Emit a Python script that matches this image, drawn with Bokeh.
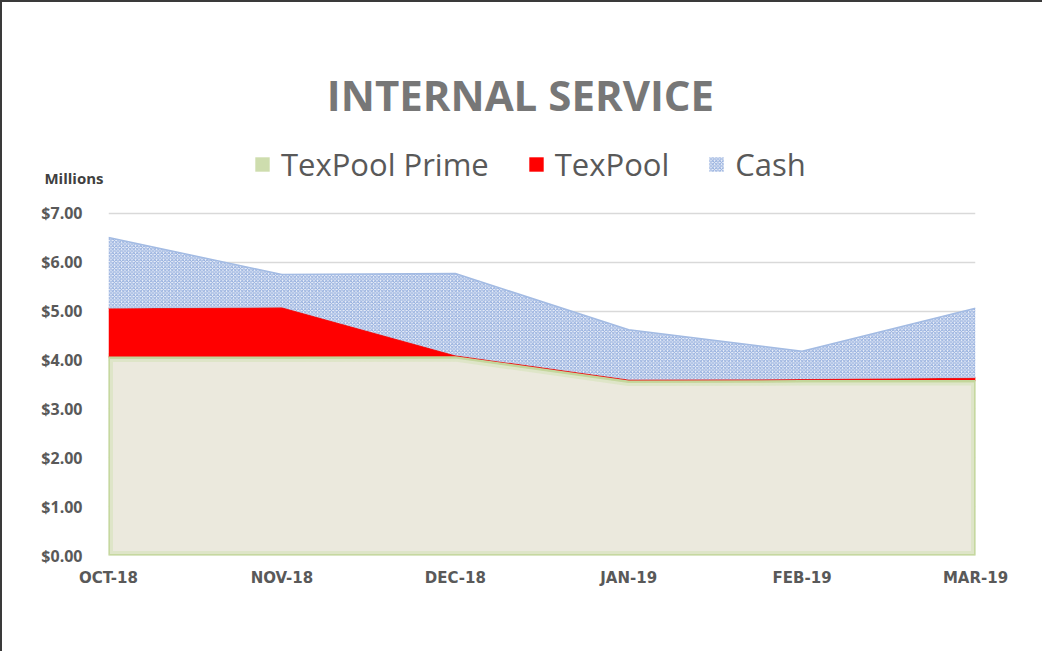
import numpy as np
from bokeh.plotting import figure
from bokeh.models import (FixedTicker, Legend, LegendItem, Label, Range1d,
                          ColumnDataSource, LinearAxis)
from bokeh.embed import file_html
from bokeh.resources import INLINE

# ---- data ----
months = ["OCT-18", "NOV-18", "DEC-18", "JAN-19", "FEB-19", "MAR-19"]
texpool_prime = [4.05, 4.05, 4.06, 3.56, 3.57, 3.57]
texpool = [1.01, 1.03, 0.04, 0.04, 0.04, 0.07]
cash = [1.45, 0.67, 1.67, 1.02, 0.57, 1.42]
y_ticks = [0, 1, 2, 3, 4, 5, 6, 7]
y_tick_labels = ["$0.00", "$1.00", "$2.00", "$3.00", "$4.00", "$5.00", "$6.00", "$7.00"]
title_text = "INTERNAL SERVICE"
unit_text = "Millions"

x = list(range(len(months)))
s1 = np.array(texpool_prime)
s2 = s1 + np.array(texpool)
s3 = s2 + np.array(cash)

src = ColumnDataSource(dict(x=x, zero=[0.0] * len(x), s1=s1, s2=s2, s3=s3))

W, H = 1042, 651
FRAME_BOTTOM = 553
p = figure(width=W, height=H, output_backend="svg", toolbar_location=None,
           x_range=Range1d(0, len(x) - 1), y_range=Range1d(0, FRAME_BOTTOM / 48.86),
           min_border_left=106, min_border_right=W - 973,
           min_border_top=0, min_border_bottom=H - FRAME_BOTTOM)
p.styles = {"border-top": "2px solid #3a3a3a", "border-left": "2px solid #3a3a3a"}
p.outline_line_color = None
p.background_fill_color = "white"
p.border_fill_color = "white"

# grid / axes
p.xgrid.grid_line_color = None
p.ygrid.ticker = FixedTicker(ticks=y_ticks)
p.ygrid.grid_line_color = "#D9D9D9"
p.ygrid.grid_line_width = 1.5
p.yaxis.ticker = FixedTicker(ticks=y_ticks)
p.xaxis.ticker = FixedTicker(ticks=x)
p.yaxis.major_label_overrides = {t: l for t, l in zip(y_ticks, y_tick_labels)}
p.xaxis.major_label_overrides = {i: m for i, m in zip(x, months)}

for ax in (p.xaxis, p.yaxis):
    ax.axis_line_color = None
    ax.major_tick_line_color = None
    ax.minor_tick_line_color = None
    ax.major_label_text_color = "#595959"
    ax.major_label_text_font_style = "bold"
p.yaxis.major_label_text_font = "Open Sans"
p.yaxis.major_label_text_font_size = "16px"
p.yaxis.major_label_standoff = 20
p.xaxis.major_label_text_font = "DejaVu Sans"
p.xaxis.major_label_text_font_size = "15px"
p.xaxis.major_label_standoff = 7

# "Millions" unit label as a second, label-only left axis
unit_y = 7.716
unit_axis = LinearAxis(ticker=FixedTicker(ticks=[unit_y]),
                       major_label_overrides={unit_y: unit_text},
                       axis_line_color=None, major_tick_line_color=None,
                       minor_tick_line_color=None,
                       major_label_text_font="Open Sans",
                       major_label_text_font_style="bold",
                       major_label_text_font_size="15px",
                       major_label_text_color="#404040",
                       major_label_standoff=-71)
p.add_layout(unit_axis, "left")

# areas
p.varea(x="x", y1="zero", y2="s1", source=src, fill_color="#EBE9DD")
prime_xs = x + x[::-1]
prime_ys = list(s1) + [0] * len(x)
p.patch(prime_xs, prime_ys, fill_color=None, line_color="#D3E2B6",
        line_width=9, line_alpha=0.55, line_join="round")
p.patch(prime_xs, prime_ys, fill_color=None, line_color="#C3D69B",
        line_width=3, line_alpha=0.9, line_join="round")
# zero-height area: carries only the legend swatch colour for TexPool Prime
r_prime_key = p.varea(x="x", y1="zero", y2="zero", source=src, fill_color="#CEDDAE")
r_tp = p.varea(x="x", y1="s1", y2="s2", source=src, fill_color="#FF0000")
p.line(x="x", y="s2", source=src, line_color="#E0252B", line_width=1.5)
r_cash = p.varea(x="x", y1="s2", y2="s3", source=src, fill_color="#EEF2FA",
                 hatch_pattern="diagonal_cross", hatch_color="#8FAADC",
                 hatch_scale=3.5, hatch_weight=1.0)
p.line(x="x", y="s3", source=src, line_color="#A3BBE3", line_width=1.5)
p.line(x="x", y="s1", source=src, line_color="#C3D69B", line_width=2)

# legend
legend = Legend(items=[
    LegendItem(label="TexPool Prime", renderers=[r_prime_key]),
    LegendItem(label="TexPool", renderers=[r_tp]),
    LegendItem(label="Cash", renderers=[r_cash]),
], orientation="horizontal", location=(145, 370))
legend.label_text_font = "Open Sans"
legend.label_text_font_size = "31px"
legend.label_text_color = "#595959"
legend.glyph_width = 18
legend.glyph_height = 18
legend.label_standoff = 10
legend.spacing = 38
legend.padding = 0
legend.margin = 0
legend.border_line_color = None
legend.background_fill_alpha = 0
p.add_layout(legend, "center")

# title
p.add_layout(Label(x=2.376, y=9.435, text=title_text, text_align="center",
                   text_baseline="middle", text_font="Open Sans",
                   text_font_size="42px", text_font_style="bold",
                   text_color="#777777"))

open("out.html", "w").write(file_html(p, INLINE))
